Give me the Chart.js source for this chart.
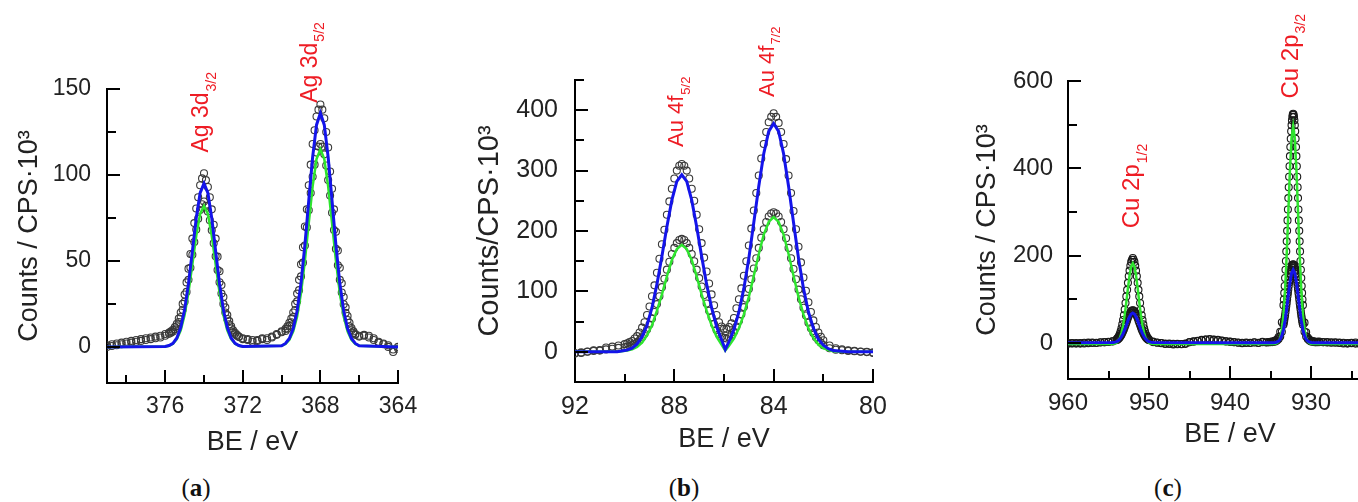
<!DOCTYPE html>
<html>
<head>
<meta charset="utf-8">
<script src="https://cdn.jsdelivr.net/npm/chart.js@4.4.1/dist/chart.umd.min.js"></script>
<style>
  html, body { margin: 0; padding: 0; overflow: hidden; background: #fff; width: 1358px; height: 502px; }
  canvas { position: absolute; top: 0; }
  .cap { position: absolute; top: 474px; width: 60px; margin-left: -30px; text-align: center;
         font: 25px/28px 'Liberation Serif', 'DejaVu Serif', serif; color: #111; }
</style>
</head>
<body>
<canvas id="pa" width="440" height="470" style="left:0px"></canvas>
<canvas id="pb" width="450" height="470" style="left:450px"></canvas>
<canvas id="pc" width="500" height="470" style="left:900px"></canvas>
<div class="cap" style="left:196px">(<b>a</b>)</div>
<div class="cap" style="left:684px">(<b>b</b>)</div>
<div class="cap" style="left:1168px">(<b>c</b>)</div>
<script>
// ---- (a) Ag 3d ----
const agEnergy = [364, 364.25, 364.5, 364.75, 365, 365.25, 365.5, 365.75, 366,
  366.2, 366.3, 366.4, 366.5, 366.6, 366.7, 366.8, 366.9, 367, 367.1, 367.2, 367.3, 367.4, 367.5, 367.6, 367.7, 367.8, 367.9,
  368, 368.1, 368.2, 368.3, 368.4, 368.5, 368.6, 368.7, 368.8, 368.9, 369, 369.1, 369.2, 369.3, 369.4, 369.5, 369.6, 369.7, 369.8,
  370, 370.25, 370.5, 370.75, 371, 371.25, 371.5, 371.75, 372,
  372.2, 372.3, 372.4, 372.5, 372.6, 372.7, 372.8, 372.9, 373, 373.1, 373.2, 373.3, 373.4, 373.5, 373.6, 373.7, 373.8, 373.9,
  374, 374.1, 374.2, 374.3, 374.4, 374.5, 374.6, 374.7, 374.8, 374.9, 375, 375.1, 375.2, 375.3, 375.4, 375.5, 375.6, 375.7, 375.8,
  376, 376.25, 376.5, 376.75, 377, 377.25, 377.5, 377.75, 378, 378.25, 378.5, 378.75, 379];
const agCountsBlue = [-1, -3, 0, 1.5, 3, 4, 6.5, 7, 6,
  7.5, 9, 11, 14, 18, 23, 29, 37, 46, 56, 67, 80, 92, 102, 116, 125, 133, 138,
  141, 138, 134, 126, 118, 106, 94, 80, 70, 58, 48, 39, 31, 25, 20, 16.5, 14, 12, 10.5,
  9, 7.5, 6, 5, 4.5, 3.5, 4, 4.5, 5,
  6, 7, 8.2, 9.6, 12, 15, 18.5, 23, 29, 36, 44, 52.5, 63, 71, 80, 87, 93, 97,
  101, 98, 94, 87, 80.5, 72, 63, 54, 45.5, 37.5, 30.5, 25, 20, 16.5, 13.5, 11.5, 10, 9, 8.3,
  7.5, 6.5, 5, 5.5, 4, 4.5, 3, 3.5, 2, 2.5, 1, 1.5, 0];
const agCountsGreen = [0, -1.5, 1, 2, 2.5, 5, 5.5, 6.5, 6.5,
  7, 8, 9.7, 12, 15.6, 19.8, 24.8, 31.6, 39, 47.5, 57, 68, 78, 88, 97, 105.5, 112, 116.5,
  118, 116.5, 113, 106, 99, 89.5, 79.5, 69.5, 59, 49, 41, 33, 26.5, 21.5, 17.3, 14.3, 12.2, 10.6, 9.3,
  8.5, 7, 5.5, 4, 5, 4, 3, 4, 4.5,
  5.7, 6.5, 7.5, 8.7, 10.7, 13.2, 16.2, 20, 25, 31, 37.6, 44.7, 52.7, 60.3, 67.8, 73.7, 78.8, 82,
  84.6, 83, 79.6, 74.6, 68.3, 61, 53.6, 46, 39, 32, 26.3, 21.6, 17.4, 14.5, 12, 10.3, 9, 8.2, 7.6,
  6.5, 5.5, 6, 4.5, 5, 3.5, 4, 2.5, 3, 1.5, 2, 0.5, 1];
const agFitEnergy = [364, 366, 366.2, 366.4, 366.6, 366.8, 367, 367.2, 367.4, 367.6, 367.8, 368, 368.2, 368.4, 368.6, 368.8,
  369, 369.2, 369.4, 369.6, 369.8, 370, 372, 372.2, 372.4, 372.6, 372.8, 373, 373.2, 373.4, 373.6, 373.8, 374,
  374.2, 374.4, 374.6, 374.8, 375, 375.2, 375.4, 375.6, 375.8, 376, 379];
const agFitBlue = [0, 0.7, 2, 4.9, 10.6, 20.9, 37, 59.2, 85.1, 110.4, 129.1, 136, 129.1, 110.4, 85.1, 59.2, 37, 20.9, 10.6, 4.9, 2, 0.7,
  0.2, 0.8, 2.1, 5.2, 11.2, 21.5, 36.7, 55.6, 74.9, 89.5, 95, 89.5, 74.9, 55.6, 36.7, 21.5, 11.2, 5.2, 2.1, 0.8, 0.2, 0];
const agFitGreen = [0, 0.6, 1.7, 4.1, 9, 17.7, 31.3, 50, 72, 93.4, 109.2, 115, 109.2, 93.4, 72, 50, 31.3, 17.7, 9, 4.1, 1.7, 0.6,
  0.2, 0.7, 1.8, 4.5, 9.6, 18.5, 31.7, 48, 64.6, 77.3, 82, 77.3, 64.6, 48, 31.7, 18.5, 9.6, 4.5, 1.8, 0.7, 0.2, 0];
const agXMajor = [376, 372, 368, 364];
const agXMinor = [378, 374, 370, 366];
const agYMajor = [0, 50, 100, 150];
const agYMinor = [25, 75, 125];
const agPeakE = [374.1, 368.5];
const agPeakY = [113, 142];
const agPeakName = ['Ag 3d', 'Ag 3d'];
const agPeakSub = ['3/2', '5/2'];

// ---- (b) Au 4f ----
const auEnergy = [80, 80.25, 80.5, 80.75, 81, 81.25, 81.5, 81.75,
  82, 82.1, 82.2, 82.3, 82.4, 82.5, 82.6, 82.7, 82.8, 82.9,
  83, 83.1, 83.2, 83.3, 83.4, 83.5, 83.6, 83.7, 83.8, 83.9,
  84, 84.1, 84.2, 84.3, 84.4, 84.5, 84.6, 84.7, 84.8, 84.9,
  85, 85.1, 85.2, 85.3, 85.4, 85.5, 85.6, 85.7, 85.8, 85.9,
  86, 86.1, 86.2, 86.3, 86.4, 86.5, 86.6, 86.7, 86.8, 86.9,
  87, 87.1, 87.2, 87.3, 87.4, 87.5, 87.6, 87.7, 87.8, 87.9,
  88, 88.1, 88.2, 88.3, 88.4, 88.5, 88.6, 88.7, 88.8, 88.9,
  89, 89.1, 89.2, 89.3, 89.4, 89.5, 89.6, 89.7, 89.8, 89.9,
  90, 90.25, 90.5, 90.75, 91, 91.25, 91.5, 91.75, 92];
const auCountsBlue = [-2, -0.5, 0, 1.5, 2.5, 4, 6, 10.5,
  19, 25, 32, 41, 52, 66, 82, 101, 123, 148,
  174, 203, 233, 263, 292, 319, 344, 364, 379, 389,
  395, 389, 380, 364, 344, 320, 292, 263, 234, 204,
  176, 150, 126, 105, 87, 72, 56, 47, 41, 38,
  38, 42, 49, 61, 77, 95, 113, 133, 156, 180,
  203, 227, 250, 270, 287, 300, 308, 311, 308, 300,
  287, 270, 249, 227, 202, 178, 154, 131, 110, 92,
  75, 61, 49, 40, 32, 26, 22, 18, 16, 14,
  12.7, 10.5, 8.6, 7, 3, 2.6, 0.5, -2, -3];
const auCountsGreen = [-1, 0, 0.5, 1, 1.5, 2.5, 3.5, 6,
  11, 15, 19, 24, 31, 39, 48, 60, 73, 87,
  103, 120, 137, 155, 172, 188, 203, 215, 224, 229,
  231, 229, 224, 215, 203, 189, 172, 155, 138, 120,
  104, 88, 74, 62, 51, 42, 33, 28, 24, 22,
  23, 25, 29, 36, 46, 57, 68, 80, 94, 108,
  122, 136, 150, 162, 172, 180, 185, 187, 185, 180,
  172, 162, 149, 136, 121, 107, 92, 79, 66, 55,
  45, 37, 30, 24, 19, 16, 13, 11, 9.5, 8.5,
  7.5, 6.5, 5, 4, 2, 1.5, 0, -1, -2];
const auFitEnergy = [80, 81, 81.6, 81.8, 82, 82.2, 82.4, 82.6, 82.8, 83, 83.2, 83.4, 83.6, 83.8, 84, 84.2, 84.4, 84.6, 84.8,
  85, 85.2, 85.4, 85.6, 85.8, 85.95, 86.1, 86.3, 86.5, 86.7, 86.9, 87.1, 87.3, 87.5, 87.7, 87.9, 88.1, 88.3, 88.5,
  88.7, 88.9, 89.1, 89.3, 89.5, 89.7, 89.9, 90.3, 92];
const auFitBlue = [0, 0, 2, 5, 11, 21, 39, 66, 105, 155, 214, 274, 328, 365, 378, 365, 328, 274, 214, 155, 105, 66, 37, 17,
  4, 20, 42, 73, 112, 158, 207, 251, 282, 293, 282, 251, 207, 158, 112, 73, 44, 25, 13, 6, 3, 0, 0];
const auFitGreen = [0, 0, 1, 3, 6, 12, 23, 39, 62, 91, 126, 162, 194, 215, 223, 215, 194, 162, 126, 91, 62, 39, 22, 10,
  2, 12, 25, 44, 68, 95, 125, 152, 170, 177, 170, 152, 125, 95, 68, 44, 27, 15, 8, 4, 2, 0, 0];
const auXMajor = [92, 88, 84, 80];
const auXMinor = [90, 86, 82];
const auYMajor = [0, 100, 200, 300, 400];
const auYMinor = [50, 150, 250, 350, 450];
const auPeakE = [87.88, 84.25];
const auPeakY = [339, 422];
const auPeakName = ['Au 4f', 'Au 4f'];
const auPeakSub = ['5/2', '7/2'];

// ---- (c) Cu 2p ----
const cuEnergy = [920, 920.5, 921, 921.5, 922, 922.5, 923, 923.5, 924, 924.5, 925, 925.5, 926, 926.5, 927, 927.5, 928, 928.5, 929,
  929.2, 929.4, 929.6, 929.8, 930, 930.2, 930.4, 930.6, 930.8,
  931, 931.05, 931.1, 931.15, 931.2, 931.25, 931.3, 931.35, 931.4, 931.45, 931.5, 931.55, 931.6, 931.65, 931.7, 931.75,
  931.8, 931.85, 931.9, 931.95, 932, 932.05, 932.1, 932.15, 932.2, 932.25, 932.3, 932.35, 932.4, 932.45, 932.5, 932.55,
  932.6, 932.65, 932.7, 932.75, 932.8, 932.85, 932.9, 932.95, 933, 933.05, 933.1, 933.15, 933.2, 933.25, 933.3, 933.35, 933.4,
  933.6, 933.8, 934, 934.2, 934.4, 934.6, 934.8, 935, 935.2,
  935.5, 936, 936.5, 937, 937.5, 938, 938.5, 939, 939.5, 940, 940.5, 941, 941.5, 942, 942.5, 943, 943.5, 944, 944.5,
  945, 945.5, 946, 946.5, 947, 947.5, 948, 948.5, 949, 949.5,
  950, 950.1, 950.2, 950.3, 950.4, 950.5, 950.6, 950.7, 950.8, 950.9, 951, 951.1, 951.2, 951.3, 951.4, 951.5, 951.6, 951.7,
  951.8, 951.9, 952, 952.1, 952.2, 952.3, 952.4, 952.5, 952.6, 952.7, 952.8, 952.9, 953, 953.1, 953.2, 953.3, 953.4, 953.5,
  953.6, 953.7, 953.8, 953.9, 954,
  954.5, 955, 955.5, 956, 956.5, 957, 957.5, 958, 958.5, 959, 959.5, 960];
const cuCountsGreen = [-2, 1, -1, 2, 0, -2, 1, 0, -1.5, 1.5, 0, -1, 1, 0.5, 2, 1, 2.5, 2, 3.5,
  3, 2.5, 4, 4.5, 5, 8, 13, 25, 47,
  87, 100, 115, 131, 149, 168, 188, 210, 233, 257, 281, 306, 332, 357, 381, 405, 428, 449, 468, 485, 499, 510, 518, 523,
  525, 523, 518, 510, 499, 485, 468, 449, 428, 405, 381, 357, 332, 306, 281, 257, 233, 210, 188, 168, 149, 131, 115, 100, 87,
  48, 26, 14, 8.5, 6, 4.5, 3.5, 3, 2.5,
  2, 3, 1, 2, 0.5, 1.5, 0, 1, 2.5, 3.5, 4.5, 6, 7.5, 8, 9.5, 8, 7.5, 5, 4.5, 2, -1.5, -2.5, -1.5, -3, -1, -2, 0.5, 1, 3.5,
  8.5, 10.5, 13, 17, 21, 27, 34, 43, 53, 64, 77, 92, 107, 122, 138, 153, 166, 177, 186, 191,
  195, 191, 186, 177, 166, 153, 138, 122, 107, 92, 77, 64, 53, 43, 34, 27, 21.5, 17, 13.5, 11, 9,
  4.5, 3, 2, 1.5, 1, 0.5, 1.5, -0.5, 0.5, -1, 0, -1.5];
const cuCountsBlue = [1, -1.5, 0.5, -1, 1.5, 0, -1, 1.5, 0.5, -1, 1, 0.5, -0.5, 1.5, 1, 2, 1.5, 2.5, 2.5,
  2, 2.5, 2.5, 3.5, 4, 6, 9.5, 15.5, 26,
  42, 47, 52, 58, 64, 71, 78, 85, 92, 100, 108, 115, 123, 131, 138, 145, 152, 158, 164, 168, 173, 176, 178, 180,
  180, 180, 178, 176, 173, 168, 164, 158, 152, 145, 138, 131, 123, 115, 108, 100, 92, 85, 78, 71, 64, 58, 52, 47, 42,
  26, 15.5, 9.5, 6, 4, 3.5, 2.5, 2.5, 2,
  1.5, 2, 0.5, 1.5, 1, 0.5, 1, 1.5, 2, 3, 4, 5.5, 7, 7.5, 8.5, 8.5, 6.5, 5.5, 3.5, 2.5, -1, -2, -2.5, -1.5, -2, -1, 0, 1.5, 2.5,
  7, 8, 9.5, 11.5, 13.5, 16.5, 19.5, 23, 27, 31.5, 36.5, 41.5, 47, 52, 57.5, 62, 66.5, 70, 73, 74.5,
  75, 74.5, 73, 70, 66.5, 62, 57.5, 52, 47, 41.5, 36.5, 31.5, 27, 23, 19.5, 16.5, 13.5, 11.5, 9.5, 8, 7,
  4, 2.7, 2.3, 2, 0.5, 1.5, 0, 1, -1, 0.5, -0.5, 0];
const cuFitEnergy = [920, 929.6, 929.8, 930, 930.2, 930.4, 930.6, 930.8, 931, 931.2, 931.4, 931.6, 931.8, 932, 932.2, 932.4,
  932.6, 932.8, 933, 933.2, 933.4, 933.6, 933.8, 934, 934.2, 934.4, 934.6, 934.8, 940,
  949.4, 949.6, 949.8, 950, 950.2, 950.4, 950.6, 950.8, 951, 951.2, 951.4, 951.6, 951.8, 952, 952.2, 952.4, 952.6,
  952.8, 953, 953.2, 953.4, 953.6, 953.8, 954, 954.2, 954.4, 954.6, 960];
const cuFitGreen = [-2, -2, -2, -1.4, 0, 3.5, 12, 31, 65, 122, 203, 300, 397, 469, 496, 469, 397, 300, 203, 122, 65, 31, 12,
  3.5, 0, -1.4, -2, -2, -2,
  -1.8, -1.5, -0.7, 1.1, 4.8, 11.6, 23, 40.6, 64.7, 94, 126, 155, 175.6, 183, 175.6, 155, 126, 94, 64.7, 40.6, 23, 11.6,
  4.8, 1.1, -0.7, -1.5, -1.8, -2];
const cuFitBlue = [1, 1, 1.2, 1.6, 2.5, 4.6, 9, 17, 31, 52, 79, 110, 139, 160, 168, 160, 139, 110, 79, 52, 31, 17, 9,
  4.6, 2.5, 1.6, 1.2, 1, 1,
  1.3, 1.6, 2.3, 3.5, 5.7, 9.3, 14.6, 21.8, 30.9, 41.2, 51.6, 60.6, 66.8, 69, 66.8, 60.6, 51.6, 41.2, 30.9, 21.8, 14.6, 9.3,
  5.7, 3.5, 2.3, 1.6, 1.3, 1];
const cuXMajor = [960, 950, 940, 930];
const cuXMinor = [955, 945, 935, 925];
const cuYMajor = [0, 200, 400, 600];
const cuYMinor = [100, 300, 500];
const cuPeakE = [952, 932.4];
const cuPeakY = [263, 560];
const cuPeakName = ['Cu 2p', 'Cu 2p'];
const cuPeakSub = ['1/2', '3/2'];

const FONT = "'Liberation Sans', Arial, sans-serif";
const INK = '#222';
const RED = '#ee1c24';
const BLUE = '#1414ea';
const GREEN = '#2ee52e';

function pts(xs, ys) {
  return xs.map((x, i) => ({x: x, y: ys[i]}));
}

// inward tick marks and the red peak names
function decorations(p) {
  return {
    id: 'decor',
    afterDraw(chart) {
      const {ctx, chartArea: area, scales: {x, y}} = chart;
      ctx.save();
      ctx.strokeStyle = '#000';
      ctx.lineWidth = 2;
      ctx.beginPath();
      const xt = (v, len) => {
        const px = Math.round(x.getPixelForValue(v));
        ctx.moveTo(px, area.bottom);
        ctx.lineTo(px, area.bottom - len);
      };
      const yt = (v, len) => {
        const py = Math.round(y.getPixelForValue(v));
        ctx.moveTo(area.left, py);
        ctx.lineTo(area.left + len, py);
      };
      p.xMajor.forEach(v => xt(v, 13));
      p.xMinor.forEach(v => xt(v, 8));
      p.yMajor.forEach(v => yt(v, 13));
      p.yMinor.forEach(v => yt(v, 9));
      ctx.stroke();

      ctx.fillStyle = RED;
      ctx.textAlign = 'left';
      ctx.textBaseline = 'middle';
      p.peakE.forEach((e, i) => {
        ctx.save();
        ctx.translate(x.getPixelForValue(e), y.getPixelForValue(p.peakY[i]));
        ctx.rotate(-Math.PI / 2);
        ctx.font = p.labelSize + 'px ' + FONT;
        ctx.fillText(p.peakName[i], 0, 0);
        const w = ctx.measureText(p.peakName[i]).width;
        ctx.font = Math.round(p.labelSize * 0.6) + 'px ' + FONT;
        ctx.fillText(p.peakSub[i], w + 1, p.labelSize * 0.42);
        ctx.restore();
      });
      ctx.restore();
    }
  };
}

function drawPanel(id, p) {
  new Chart(document.getElementById(id), {
    type: 'scatter',
    data: {
      datasets: [
        {data: pts(p.fitE, p.fitBlue), showLine: true, borderColor: BLUE, borderWidth: 3, pointRadius: 0, tension: 0},
        {data: pts(p.fitE, p.fitGreen), showLine: true, borderColor: GREEN, borderWidth: 2.5, pointRadius: 0, tension: 0},
        {data: pts(p.dataE, p.dataBlue), pointRadius: 3.5, borderWidth: 1.1, borderColor: p.dot, backgroundColor: 'rgba(0,0,0,0)'},
        {data: pts(p.dataE, p.dataGreen), pointRadius: 3.5, borderWidth: 1.1, borderColor: p.dot, backgroundColor: 'rgba(0,0,0,0)'}
      ]
    },
    options: {
      responsive: false,
      animation: false,
      events: [],
      layout: {padding: {left: 0, top: p.top, right: p.right, bottom: 0}},
      plugins: {legend: {display: false}, tooltip: {enabled: false}},
      scales: {
        x: {
          type: 'linear', reverse: true, min: p.xMin, max: p.xMax,
          grid: {display: false, drawTicks: false},
          border: {display: true, color: '#000', width: 2},
          ticks: {color: INK, font: {family: FONT, size: p.tickSize}, padding: p.xTickPad, maxRotation: 0, autoSkip: false},
          title: {display: true, text: 'BE / eV', color: INK, font: {family: FONT, size: p.xTitleSize},
                  padding: {top: 0, bottom: p.xTitlePad}},
          afterBuildTicks: s => { s.ticks = p.xMajor.map(v => ({value: v})); },
          afterFit: s => { s.height = p.xAxisH; }
        },
        y: {
          type: 'linear', min: p.yMin, max: p.yMax,
          grid: {display: false, drawTicks: false},
          border: {display: true, color: '#000', width: 2},
          ticks: {color: INK, font: {family: FONT, size: p.tickSize}, padding: p.yTickPad, autoSkip: false},
          title: {display: true, text: p.yTitle, color: INK, font: {family: FONT, size: p.yTitleSize},
                  padding: {top: p.yTitlePad, bottom: 0}},
          afterBuildTicks: s => { s.ticks = p.yMajor.map(v => ({value: v})); },
          afterFit: s => { s.width = p.yAxisW; }
        }
      }
    },
    plugins: [decorations(p)]
  });
}

drawPanel('pa', {
  dataE: agEnergy, dataBlue: agCountsBlue, dataGreen: agCountsGreen,
  fitE: agFitEnergy, fitBlue: agFitBlue, fitGreen: agFitGreen,
  xMin: 364, xMax: 379, yMin: -21, yMax: 150,
  xMajor: agXMajor, xMinor: agXMinor, yMajor: agYMajor, yMinor: agYMinor,
  peakE: agPeakE, peakY: agPeakY, peakName: agPeakName, peakSub: agPeakSub, labelSize: 23,
  tickSize: 23, xTitleSize: 27, yTitleSize: 27, yTitle: 'Counts / CPS·10³',
  top: 89, right: 42, yAxisW: 107, xAxisH: 87, xTickPad: 10, yTickPad: 16, xTitlePad: 10.8, yTitlePad: 13.8,
  dot: '#3a3a3a'
});

drawPanel('pb', {
  dataE: auEnergy, dataBlue: auCountsBlue, dataGreen: auCountsGreen,
  fitE: auFitEnergy, fitBlue: auFitBlue, fitGreen: auFitGreen,
  xMin: 80, xMax: 92, yMin: -50, yMax: 450,
  xMajor: auXMajor, xMinor: auXMinor, yMajor: auYMajor, yMinor: auYMinor,
  peakE: auPeakE, peakY: auPeakY, peakName: auPeakName, peakSub: auPeakSub, labelSize: 22,
  tickSize: 25, xTitleSize: 27, yTitleSize: 29, yTitle: 'Counts/CPS·10³',
  top: 80, right: 27, yAxisW: 125, xAxisH: 88, xTickPad: 10, yTickPad: 17, xTitlePad: 13.8, yTitlePad: 22.6,
  dot: '#3a3a3a'
});

drawPanel('pc', {
  dataE: cuEnergy, dataBlue: cuCountsBlue, dataGreen: cuCountsGreen,
  fitE: cuFitEnergy, fitBlue: cuFitBlue, fitGreen: cuFitGreen,
  xMin: 920, xMax: 960, yMin: -82, yMax: 600,
  xMajor: cuXMajor, xMinor: cuXMinor, yMajor: cuYMajor, yMinor: cuYMinor,
  peakE: cuPeakE, peakY: cuPeakY, peakName: cuPeakName, peakSub: cuPeakSub, labelSize: 24,
  tickSize: 24, xTitleSize: 27, yTitleSize: 27, yTitle: 'Counts / CPS·10³',
  top: 81, right: 8, yAxisW: 168, xAxisH: 91, xTickPad: 9.6, yTickPad: 15, xTitlePad: 18.8, yTitlePad: 71.8,
  dot: '#1a1a1a'
});
</script>
</body>
</html>
